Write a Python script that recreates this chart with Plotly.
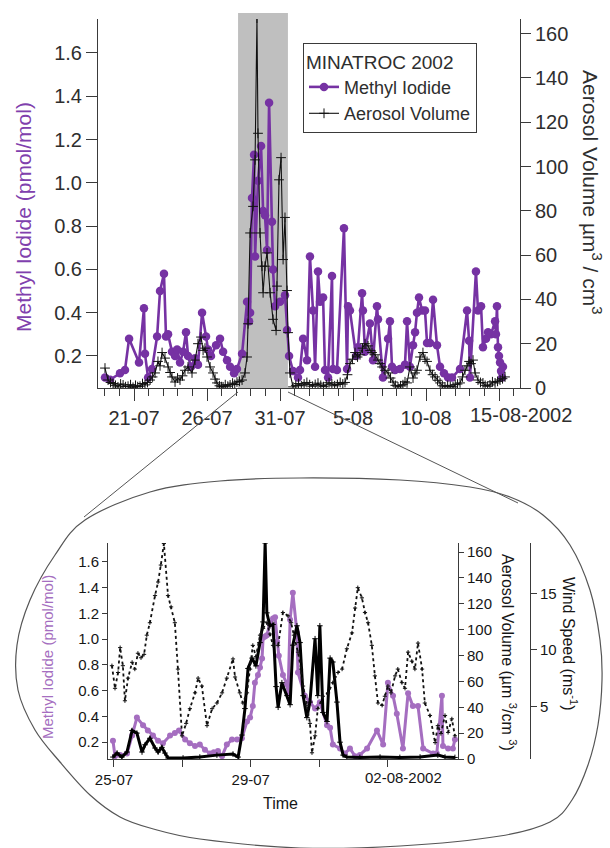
import numpy as np
import pandas as pd
import plotly.graph_objects as go

# ---------------------------------------------------------------------------
# MINATROC 2002 campaign data.  Times are fractional days of July 2002
# (day 32 = 1 August, 00:00).
# ---------------------------------------------------------------------------
mi_day = [19.01, 19.36, 20.04, 20.38, 20.66, 21.34, 21.68, 21.75, 21.96, 22.23,
          22.58, 22.78, 23.05, 23.19, 23.33, 23.60, 23.81, 23.95, 24.15, 24.36,
          24.56, 24.70, 24.90, 25.18, 25.38, 25.66, 25.93, 26.07, 26.27, 26.62,
          26.89, 27.10, 27.37, 27.58, 27.85, 28.05, 28.40, 28.74, 28.88, 28.95,
          29.08, 29.22, 29.29, 29.49, 29.70, 29.84, 29.97, 30.11, 30.25, 30.45,
          30.52, 30.66, 31.00, 31.34, 31.48, 31.62, 31.89, 32.23, 32.37, 32.58,
          32.85, 33.05, 33.26, 33.40, 33.60, 33.74, 33.95, 34.08, 34.29, 34.56,
          34.63, 34.90, 35.38, 35.59, 35.66, 35.79, 36.21, 36.34, 36.62, 36.68,
          36.82, 37.16, 37.37, 37.64, 37.71, 38.05, 38.40, 38.53, 38.67, 38.88,
          39.22, 39.56, 39.70, 39.90, 40.11, 40.25, 40.38, 40.52, 40.73, 40.93,
          41.07, 41.27, 41.48, 41.75, 41.96, 42.23, 42.51, 42.78, 43.33, 43.81,
          43.95, 44.01, 44.42, 44.56, 44.77, 44.90, 45.11, 45.25, 45.45, 45.73,
          45.79, 45.86, 45.93, 46.00, 46.07, 46.14, 46.21, 46.27]
mi_pmol = [0.10, 0.09, 0.12, 0.135, 0.28, 0.17, 0.42, 0.21, 0.10, 0.14,
           0.29, 0.50, 0.58, 0.29, 0.30, 0.22, 0.20, 0.23, 0.17, 0.22,
           0.31, 0.20, 0.15, 0.19, 0.16, 0.40, 0.29, 0.23, 0.20, 0.25,
           0.28, 0.22, 0.18, 0.15, 0.12, 0.14, 0.21, 0.45, 0.36, 0.40,
           0.93, 1.13, 0.66, 1.01, 1.17, 0.87, 0.85, 0.69, 1.37, 0.82,
           0.60, 0.43, 0.45, 0.48, 0.32, 0.20, 0.13, 0.10, 0.135, 0.28,
           0.18, 0.66, 0.41, 0.15, 0.59, 0.45, 0.47, 0.135, 0.10, 0.57,
           0.14, 0.135, 0.79, 0.14, 0.43, 0.41, 0.20, 0.24, 0.49, 0.41,
           0.22, 0.35, 0.18, 0.43, 0.37, 0.10, 0.28, 0.36, 0.15, 0.135,
           0.14, 0.16, 0.36, 0.15, 0.25, 0.31, 0.40, 0.47, 0.41, 0.41,
           0.26, 0.26, 0.46, 0.25, 0.15, 0.12, 0.10, 0.10, 0.14, 0.41,
           0.27, 0.10, 0.59, 0.41, 0.43, 0.24, 0.28, 0.31, 0.30, 0.36,
           0.30, 0.43, 0.24, 0.20, 0.17, 0.13, 0.10, 0.15]

aero_day = [19.01, 19.22, 19.39, 19.56, 19.73, 19.90, 20.08, 20.25, 20.42, 20.59,
            20.76, 20.93, 21.10, 21.25, 21.41, 21.58, 21.75, 21.92, 22.10, 22.27,
            22.44, 22.64, 22.78, 22.92, 23.12, 23.33, 23.47, 23.60, 23.81, 23.98,
            24.15, 24.32, 24.49, 24.70, 24.97, 25.18, 25.38, 25.59, 25.73, 25.86,
            26.00, 26.21, 26.41, 26.55, 26.68, 26.85, 27.00, 27.10, 27.25, 27.42,
            27.58, 27.75, 27.90, 28.05, 28.22, 28.40, 28.60, 28.74, 28.81, 28.95,
            29.15, 29.29, 29.42, 29.49, 29.63, 29.77, 29.84, 29.97, 30.11, 30.32,
            30.52, 30.73, 30.79, 30.93, 31.07, 31.21, 31.34, 31.48, 31.55, 31.68,
            31.89, 32.08, 32.27, 32.46, 32.65, 32.84, 33.03, 33.22, 33.41, 33.60,
            33.79, 33.98, 34.17, 34.36, 34.55, 34.74, 34.93, 35.12, 35.30, 35.45,
            35.62, 35.79, 35.96, 36.14, 36.31, 36.48, 36.65, 36.82, 37.03, 37.17,
            37.30, 37.51, 37.71, 37.85, 37.99, 38.19, 38.40, 38.57, 38.74, 38.90,
            39.08, 39.25, 39.42, 39.56, 39.70, 39.90, 40.11, 40.25, 40.38, 40.59,
            40.79, 40.93, 41.07, 41.27, 41.45, 41.62, 41.79, 41.96, 42.12, 42.30,
            42.48, 42.66, 42.85, 43.00, 43.16, 43.33, 43.50, 43.67, 43.81, 43.95,
            44.08, 44.22, 44.36, 44.56, 44.73, 44.90, 45.05, 45.22, 45.38, 45.55,
            45.73, 45.90, 46.07, 46.24, 46.41]
aero_vol = [9.0, 3.6, 2.5, 2.0, 1.2, 0.5, 1.8, 1.4, 0.6, 0.8,
            1.5, 0.3, 1.2, 0.6, 0.8, 2.0, 1.4, 2.5, 3.6, 5.0,
            6.8, 12.0, 10.0, 16.0, 13.5, 9.5, 7.0, 5.0, 2.7, 4.5,
            3.6, 5.5, 8.0, 9.5, 6.8, 12.6, 20.0, 23.0, 17.0, 18.0,
            14.0, 9.5, 6.8, 4.0, 2.3, 1.0, 0.6, 0.5, 1.5, 0.8,
            1.4, 2.2, 1.6, 2.7, 3.0, 3.6, 6.8, 14.0, 29.0, 70.0,
            82.0, 103.0, 167.0, 115.0, 70.0, 55.0, 43.0, 55.0, 61.0, 43.0,
            31.0, 26.0, 46.0, 94.0, 104.0, 58.0, 77.0, 44.0, 25.0, 6.8,
            0.5, 1.2, 2.0, 1.0, 1.8, 2.5, 1.5, 0.8, 1.6, 2.2,
            1.2, 0.6, 1.4, 2.4, 1.8, 1.0, 1.6, 2.5, 1.8, 2.5,
            6.0, 11.0, 13.0, 16.0, 14.0, 15.0, 18.0, 20.0, 19.0, 17.0,
            16.0, 15.0, 12.6, 11.0, 9.5, 8.0, 6.8, 4.5, 2.7, 1.2,
            0.5, 1.0, 1.5, 2.8, 2.3, 9.5, 4.5, 6.8, 8.0, 14.0,
            16.0, 13.0, 12.0, 8.0, 6.0, 5.0, 3.5, 2.3, 1.0, 0.5,
            1.2, 0.8, 0.5, 1.5, 1.8, 2.3, 5.0, 8.0, 10.0, 12.0,
            11.0, 12.6, 6.8, 3.6, 2.5, 2.3, 1.2, 0.8, 1.4, 2.8,
            2.3, 3.0, 3.6, 4.2, 5.0]

# Enlarged period 25-07 .. 03-08 (methyl iodide, aerosol volume, wind speed)
zoom_mi_day = [24.97, 25.03, 25.18, 25.38, 25.53, 25.67, 25.85, 25.99, 26.14, 26.29,
               26.43, 26.64, 26.78, 26.90, 27.08, 27.22, 27.37, 27.51, 27.66, 27.81,
               27.92, 28.04, 28.16, 28.30, 28.45, 28.60, 28.74, 28.89, 28.98, 29.06,
               29.12, 29.21, 29.27, 29.33, 29.36, 29.42, 29.47, 29.56, 29.65, 29.71,
               29.77, 29.82, 29.94, 30.06, 30.09, 30.15, 30.23, 30.35, 30.38, 30.58,
               30.73, 30.88, 31.02, 31.23, 31.32, 31.40, 31.61, 31.75, 31.90, 32.05,
               32.19, 32.40, 32.69, 32.87, 33.01, 33.16, 33.27, 33.45, 33.60, 33.74,
               33.89, 34.04, 34.33, 34.44, 34.59, 34.62, 34.77, 34.91, 34.97]
zoom_mi_pmol = [0.21, 0.09, 0.10, 0.11, 0.25, 0.39, 0.33, 0.29, 0.25, 0.21,
                0.19, 0.25, 0.27, 0.29, 0.22, 0.19, 0.17, 0.18, 0.14, 0.11,
                0.12, 0.13, 0.09, 0.18, 0.22, 0.22, 0.23, 0.36, 0.39, 0.48,
                0.66, 0.72, 0.78, 0.85, 1.01, 1.02, 1.03, 1.12, 1.16, 1.17,
                0.98, 0.87, 0.72, 0.65, 0.58, 1.15, 1.36, 1.05, 0.74, 0.56,
                0.51, 0.46, 0.51, 0.33, 0.31, 0.18, 0.15, 0.11, 0.15, 0.09,
                0.10, 0.15, 0.29, 0.18, 0.66, 0.56, 0.42, 0.15, 0.58, 0.48,
                0.48, 0.15, 0.11, 0.11, 0.56, 0.17, 0.15, 0.15, 0.22]

zoom_aero_day = [24.97, 25.09, 25.23, 25.38, 25.53, 25.67, 25.82, 25.91, 26.05, 26.20,
                 26.29, 26.40, 26.49, 26.58, 27.02, 27.51, 28.01, 28.48, 28.63, 28.74,
                 28.83, 28.92, 29.04, 29.15, 29.27, 29.36, 29.42, 29.47, 29.56, 29.65,
                 29.74, 29.80, 29.91, 30.06, 30.15, 30.23, 30.35, 30.44, 30.53, 30.64,
                 30.73, 30.88, 30.96, 31.02, 31.11, 31.23, 31.32, 31.40, 31.52, 31.61,
                 31.70, 31.81, 32.19, 32.78, 33.36, 33.95, 34.47, 34.68, 34.97]
zoom_aero_vol = [1.5, 4.6, 1.5, 5.4, 22.0, 20.0, 5.4, 11.0, 16.0, 8.5,
                 5.4, 9.0, 4.6, 0.8, 0.8, 1.5, 3.0, 3.8, 1.5, 18.5,
                 39.0, 70.0, 78.0, 72.0, 90.0, 106.0, 167.0, 113.0, 103.0, 104.0,
                 56.0, 40.0, 59.0, 49.0, 42.0, 88.0, 103.0, 90.0, 49.0, 32.0,
                 44.0, 93.0, 49.0, 103.0, 36.0, 29.0, 78.0, 75.0, 44.0, 13.0,
                 3.0, 1.5, 1.2, 1.5, 1.2, 1.5, 3.0, 1.5, 1.2]

wind_day = [24.94, 25.03, 25.12, 25.18, 25.26, 25.32, 25.41, 25.53, 25.61, 25.70,
            25.79, 25.88, 25.96, 26.05, 26.20, 26.29, 26.37, 26.46, 26.58, 26.67,
            26.78, 26.87, 26.99, 27.11, 27.22, 27.37, 27.46, 27.57, 27.72, 27.87,
            28.01, 28.16, 28.30, 28.48, 28.54, 28.68, 28.77, 28.89, 28.98, 29.06,
            29.15, 29.27, 29.36, 29.47, 29.56, 29.65, 29.80, 29.94, 30.09, 30.18,
            30.26, 30.38, 30.47, 30.53, 30.64, 30.73, 30.79, 30.88, 30.96, 31.11,
            31.26, 31.40, 31.55, 31.67, 31.81, 31.96, 32.05, 32.13, 32.25, 32.34,
            32.43, 32.54, 32.63, 32.72, 32.84, 32.92, 33.01, 33.10, 33.22, 33.30,
            33.42, 33.51, 33.60, 33.71, 33.80, 33.89, 34.01, 34.09, 34.24, 34.39,
            34.47, 34.56, 34.68, 34.77, 34.88, 34.97]
wind_ms = [8.6, 6.6, 8.0, 10.2, 8.6, 5.5, 7.5, 8.9, 8.3, 9.7,
           9.3, 9.6, 11.3, 12.4, 14.8, 16.0, 17.5, 19.4, 14.8, 13.8,
           12.4, 8.3, 2.4, 3.5, 4.8, 6.2, 7.5, 6.8, 3.3, 4.8,
           5.3, 6.2, 7.5, 9.2, 7.6, 6.2, 5.3, 6.2, 8.3, 10.4,
           9.4, 11.3, 11.9, 12.4, 11.4, 10.4, 10.4, 13.3, 13.0, 12.4,
           11.3, 9.8, 8.3, 6.8, 5.1, 3.5, 0.9, 2.4, 4.8, 5.9,
           6.2, 7.1, 8.0, 8.3, 10.1, 11.5, 13.7, 15.5, 14.6, 13.3,
           12.4, 10.4, 7.7, 5.3, 5.1, 5.9, 6.8, 6.2, 7.7, 8.3,
           7.1, 6.6, 9.8, 9.0, 8.3, 10.6, 8.3, 5.3, 4.2, 1.8,
           3.3, 2.6, 4.2, 2.7, 3.9, 2.4]

# Axis labelling
top_tick_dates = ["2002-07-21", "2002-07-26", "2002-07-31",
                  "2002-08-05", "2002-08-10", "2002-08-15"]
top_tick_text = ["21-07", "26-07", "31-07", "5-08", "10-08", ""]
zoom_tick_dates = ["2002-07-25", "2002-07-27", "2002-07-29",
                   "2002-07-31", "2002-08-02"]
zoom_tick_text = ["25-07", "", "29-07", "", ""]
event_window = ["2002-07-28 03:00", "2002-07-31 13:00"]


def july_day_to_time(days):
    return pd.Timestamp("2002-07-01") + pd.to_timedelta(
        np.asarray(days, dtype=float) - 1.0, unit="D")


W, H = 610, 848
FONT = "Liberation Sans, Arial, Helvetica, sans-serif"
PURPLE = "#7632a3"
LIGHT_PURPLE = "#a56ec0"
AXIS = "#3a3a3a"
TXT = "#2e2e2e"
DARK = "#161616"


def px(x):
    return x / W


def py(y):
    return 1 - y / H


fig = go.Figure()

# ---------------- main time series ----------------
fig.add_trace(go.Scatter(
    x=july_day_to_time(mi_day), y=mi_pmol, name="Methyl Iodide",
    mode="lines+markers", xaxis="x", yaxis="y",
    line=dict(color=PURPLE, width=2.6),
    marker=dict(color=PURPLE, size=8.5, symbol="circle")))
fig.add_trace(go.Scatter(
    x=july_day_to_time(aero_day), y=aero_vol, name="Aerosol Volume",
    mode="lines+markers", xaxis="x", yaxis="y2",
    line=dict(color="#111111", width=1.1),
    marker=dict(color="#111111", size=7, symbol="cross-thin",
                line=dict(color="#111111", width=1))))

# ---------------- enlarged period ----------------
fig.add_trace(go.Scatter(
    x=july_day_to_time(zoom_mi_day), y=zoom_mi_pmol, showlegend=False,
    mode="lines+markers", xaxis="x2", yaxis="y3",
    line=dict(color=LIGHT_PURPLE, width=3),
    marker=dict(color=LIGHT_PURPLE, size=6)))
fig.add_trace(go.Scatter(
    x=july_day_to_time(zoom_aero_day), y=zoom_aero_vol, showlegend=False,
    mode="lines+markers", xaxis="x2", yaxis="y4",
    line=dict(color="#000000", width=3),
    marker=dict(color="#000000", size=4, symbol="cross-thin",
                line=dict(color="#000000", width=1))))
fig.add_trace(go.Scatter(
    x=july_day_to_time(wind_day), y=wind_ms, showlegend=False,
    mode="lines+markers", xaxis="x2", yaxis="y5",
    line=dict(color="#111111", width=1.8, dash="dot"),
    marker=dict(color="#111111", size=3, symbol="cross-thin",
                line=dict(color="#111111", width=1))))

top_dom_x = [px(98), px(520)]
top_dom_y = [py(388), py(19)]
bot_dom_x = [px(108), px(458)]
bot_dom_y = [py(759), py(543)]

common = dict(showgrid=False, zeroline=False, showline=True, linecolor=AXIS,
              linewidth=1, ticks="outside", tickcolor=AXIS, automargin=False)

fig.update_layout(
    width=W, height=H, margin=dict(l=0, r=0, t=0, b=0),
    template="none", paper_bgcolor="white", plot_bgcolor="rgba(0,0,0,0)",
    font=dict(family=FONT, color=TXT),
    xaxis=dict(**common, domain=top_dom_x, anchor="y", type="date",
               range=["2002-07-18 12:45", "2002-08-16 10:30"],
               tickvals=top_tick_dates, ticktext=top_tick_text, ticklen=12,
               tickfont=dict(size=20, color=TXT),
               minor=dict(ticks="outside", ticklen=7, tickcolor=AXIS,
                          dtick=86400000, tick0="2002-07-19", showgrid=False)),
    yaxis=dict(**common, domain=top_dom_y, anchor="x",
               range=[0.052, 1.757], tickvals=[0.2, 0.4, 0.6, 0.8, 1.0, 1.2, 1.4, 1.6],
               tickformat=".1f", ticklen=11, tickfont=dict(size=20, color=TXT)),
    yaxis2=dict(**common, domain=top_dom_y, anchor="x", overlaying="y",
                side="right", range=[0, 166.6], tickvals=list(range(0, 161, 20)),
                ticklen=10, tickfont=dict(size=20, color=TXT)),
    xaxis2=dict(**common, domain=bot_dom_x, anchor="y3", type="date",
                range=["2002-07-24 19:48", "2002-08-04 01:26"],
                tickvals=zoom_tick_dates, ticktext=zoom_tick_text, ticklen=7,
                tickfont=dict(size=15, color=DARK)),
    yaxis3=dict(**common, domain=bot_dom_y, anchor="x2",
                range=[0.068, 1.747], tickvals=[0.2, 0.4, 0.6, 0.8, 1.0, 1.2, 1.4, 1.6],
                tickformat=".1f", ticklen=5, tickfont=dict(size=15, color=DARK)),
    yaxis4=dict(**common, domain=bot_dom_y, anchor="x2", overlaying="y3",
                side="right", range=[0, 167], tickvals=list(range(0, 161, 20)),
                ticklen=5, tickfont=dict(size=15, color=DARK)),
    yaxis5=dict(**common, domain=bot_dom_y, anchor="free", overlaying="y3",
                side="right", position=px(530), range=[0.35, 19.45],
                tickvals=[5, 10, 15], ticklen=6, tickfont=dict(size=15, color=DARK)),
    legend=dict(x=px(303), y=py(43), xanchor="left", yanchor="top",
                bgcolor="white", bordercolor=AXIS, borderwidth=1,
                font=dict(size=18, color=TXT), tracegroupgap=0,
                title=dict(text="MINATROC 2002", font=dict(size=19, color=TXT))),
)

# ---------------- decorations ----------------
shapes = [
    dict(type="rect", xref="x", yref="paper",
         x0=event_window[0], x1=event_window[1], y0=py(388), y1=py(13),
         fillcolor="#bfbfbf", line=dict(width=0), layer="below"),
    dict(type="line", xref="paper", yref="paper",
         x0=px(238), y0=py(392), x1=px(84), y1=py(517),
         line=dict(color="#555", width=1)),
    dict(type="line", xref="paper", yref="paper",
         x0=px(288), y0=py(392), x1=px(518), y1=py(503),
         line=dict(color="#555", width=1)),
]

# rounded outline framing the enlarged panel
outline = [(300, 478), (400, 480), (470, 487), (510, 497), (543, 515), (570, 545),
           (590, 590), (600, 640), (602, 680), (598, 725), (588, 765), (572, 800),
           (550, 822), (500, 836), (400, 846), (300, 848), (200, 839), (150, 828),
           (120, 817), (90, 795), (60, 762), (35, 730), (18, 690), (17, 645),
           (30, 600), (55, 555), (85, 520), (150, 492), (220, 481)]


def closed_spline(pts):
    p = np.array(pts, dtype=float)
    n = len(p)
    d = f"M {px(p[0][0]):.5f},{py(p[0][1]):.5f}"
    for i in range(n):
        p0, p1, p2, p3 = p[i - 1], p[i], p[(i + 1) % n], p[(i + 2) % n]
        c1 = p1 + (p2 - p0) / 6.0
        c2 = p2 - (p3 - p1) / 6.0
        d += (f" C {px(c1[0]):.5f},{py(c1[1]):.5f} {px(c2[0]):.5f},{py(c2[1]):.5f}"
              f" {px(p2[0]):.5f},{py(p2[1]):.5f}")
    return d + " Z"


shapes.append(dict(type="path", xref="paper", yref="paper", path=closed_spline(outline),
                   line=dict(color="#555", width=1.2), fillcolor="rgba(0,0,0,0)"))
fig.update_layout(shapes=shapes)

annotations = [
    dict(text="Methyl Iodide (pmol/mol)", x=px(23), y=py(217), textangle=-90,
         font=dict(size=21, color="#8040ad")),
    dict(text="Aerosol Volume \u00b5m<sup>3</sup> / cm<sup>3</sup>", x=px(592), y=py(192),
         textangle=90, font=dict(size=21, color=TXT)),
    dict(text="15-08-2002", xref="x", x="2002-08-15", y=py(415), xshift=22,
         font=dict(size=20, color=TXT)),
    dict(text="Methyl Iodide (pmol/mol)", x=px(47), y=py(657), textangle=-90,
         font=dict(size=15, color=LIGHT_PURPLE)),
    dict(text="Aerosol Volume (\u00b5m <sup>3</sup>/cm <sup>3</sup>)", x=px(509), y=py(653),
         textangle=90, font=dict(size=16, color=DARK)),
    dict(text="Wind Speed (ms<sup>-1</sup>)", x=px(570), y=py(644), textangle=90,
         font=dict(size=16, color=DARK)),
    dict(text="02-08-2002", xref="x2", x="2002-08-02", y=py(777), xshift=16,
         font=dict(size=15, color=DARK)),
    dict(text="Time", x=px(280), y=py(803), font=dict(size=16, color=DARK)),
]
for a in annotations:
    a.setdefault("xref", "paper")
    a["yref"] = "paper"
    a["showarrow"] = False
    a["xanchor"] = "center"
    a["yanchor"] = "middle"
fig.update_layout(annotations=annotations)

fig.write_html("out.html")
